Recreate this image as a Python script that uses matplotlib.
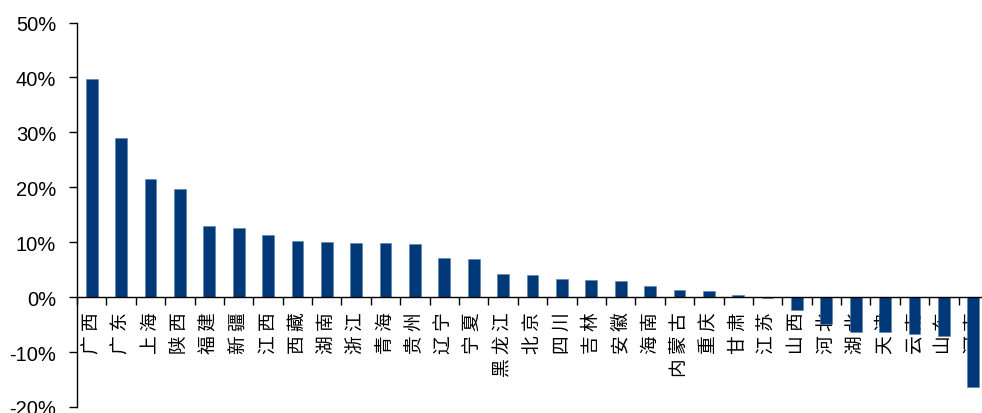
import matplotlib
matplotlib.use("Agg")
import matplotlib.pyplot as plt
from matplotlib.ticker import FixedLocator, NullFormatter
import numpy as np

provinces = ['广西', '广东', '上海', '陕西', '福建', '新疆', '江西', '西藏', '湖南', '浙江',
             '青海', '贵州', '辽宁', '宁夏', '黑龙江', '北京', '四川', '吉林', '安徽', '海南',
             '内蒙古', '重庆', '甘肃', '江苏', '山西', '河北', '湖北', '天津', '云南', '山东', '河南']
growth_pct = [39.8, 28.9, 21.5, 19.6, 12.9, 12.5, 11.4, 10.3, 10.0, 9.8,
              9.8, 9.6, 7.2, 7.0, 4.3, 4.0, 3.3, 3.2, 3.0, 2.1,
              1.3, 1.2, 0.4, -0.2, -2.4, -4.9, -6.3, -6.4, -6.7, -7.1, -16.4]
y_ticks = [-20, -10, 0, 10, 20, 30, 40, 50]
y_tick_labels = ['-20%', '-10%', '0%', '10%', '20%', '30%', '40%', '50%']

bar_color = '#003878'

fig = plt.figure(figsize=(9.82, 4.14), dpi=100)
ax = fig.add_axes([77 / 982, 1 - 408 / 414, 911 / 982, (408 - 23.5) / 414])

x = np.arange(len(provinces))
ax.bar(x, growth_pct, width=0.4, color=bar_color, edgecolor='#5a7fb0', linewidth=0.4, zorder=2)

ax.set_xlim(-0.5, len(provinces) - 0.5)
ax.set_ylim(-20, 50)

# axes frame: left spine plus a baseline at zero
for side in ('top', 'right'):
    ax.spines[side].set_visible(False)
ax.spines['bottom'].set_position(('data', 0))
for side in ('left', 'bottom'):
    ax.spines[side].set_color('#000000')
    ax.spines[side].set_linewidth(1.0)

ax.set_yticks(y_ticks)
ax.set_yticklabels(y_tick_labels, fontfamily=['Liberation Sans', 'DejaVu Sans'], fontsize=14.5)
ax.tick_params(axis='y', direction='out', length=6, width=1.0, pad=9, colors='#000000')

# category labels at bar centres (characters spaced apart), separator ticks between categories
spaced_names = [' '.join(name) for name in provinces]
ax.set_xticks(x)
ax.set_xticklabels(spaced_names, rotation=90, ha='center', va='top',
                   fontfamily=['Noto Sans CJK SC', 'DejaVu Sans'], fontsize=13.5)
ax.tick_params(axis='x', which='major', length=0, pad=10)
ax.xaxis.set_minor_locator(FixedLocator(np.arange(len(provinces) + 1) - 0.5))
ax.xaxis.set_minor_formatter(NullFormatter())
ax.tick_params(axis='x', which='minor', direction='out', length=6, width=1.0)

fig.savefig('out.png', dpi=100)
